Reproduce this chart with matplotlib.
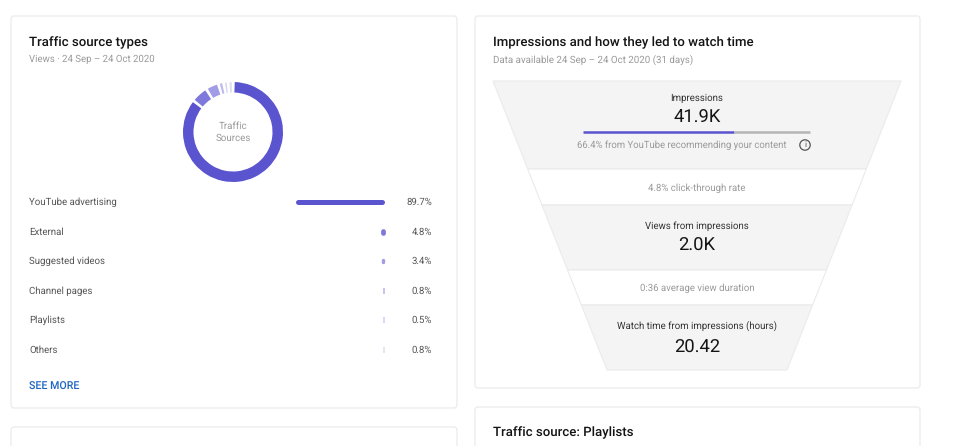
import matplotlib
matplotlib.use('agg')
import matplotlib.pyplot as plt
from matplotlib.patches import FancyBboxPatch, Polygon, Circle

plt.rcParams['font.family'] = ['Roboto', 'DejaVu Sans']
plt.rcParams['text.hinting'] = 'none'
plt.rcParams['text.hinting_factor'] = 8

# Data
sources = ['YouTube advertising', 'External', 'Suggested videos', 'Channel pages', 'Playlists', 'Others']
shares = [89.7, 4.8, 3.4, 0.8, 0.5, 0.8]
share_labels = ['89.7%', '4.8%', '3.4%', '0.8%', '0.5%', '0.8%']
source_colors = ['#5b54cf', '#7f79dc', '#a09ce6', '#bcb9ec', '#d4d2f3', '#e0e0ec']

recommended_pct = 66.4
funnel_heads = ['Impressions', 'Views from impressions', 'Watch time from impressions (hours)']
funnel_values = ['41.9K', '2.0K', '20.42']
funnel_notes = ['4.8% click-through rate', '0:36 average view duration']

DARK = '#141414'
MID = '#555555'
GREY = '#9a9a9a'

fig = plt.figure(figsize=(9.6, 4.46), dpi=100, facecolor='white')
ax = fig.add_axes([0, 0, 1, 1])
ax.set_xlim(0, 960)
ax.set_ylim(446, 0)
ax.axis('off')


def card(x0, y0, x1, y1):
    ax.add_patch(FancyBboxPatch((x0 + 3, y0 + 3), x1 - x0 - 6, y1 - y0 - 6,
                                boxstyle='round,pad=3,rounding_size=3',
                                fc='white', ec='#e9e9e9', lw=0.8, zorder=1))


card(11, 16, 457, 408)
card(475, 16, 920, 388)
card(11, 427, 457, 470)
card(475, 407, 920, 470)

# Left card
ax.text(29, 42.5, 'Traffic source types', fontsize=9.55, weight='medium', color=DARK, va='center')
ax.text(29, 59.5, 'Views · 24 Sep – 24 Oct 2020', fontsize=6.9, color=GREY, va='center')

# Donut, every slice followed by a small white gap
gap = 1.0
pie_vals = []
pie_cols = []
for val, col in zip(shares, source_colors):
    pie_vals += [val, gap]
    pie_cols += [col, 'none']
pie_ax = fig.add_axes([(233 - 52) / 960, 1 - (132 + 52) / 446, 104 / 960, 104 / 446])
pie_ax.pie(pie_vals, colors=pie_cols, startangle=88, counterclock=False,
           radius=50 / 52, wedgeprops=dict(width=10.5 / 52, lw=0))
pie_ax.set_xlim(-1, 1)
pie_ax.set_ylim(-1, 1)
ax.text(233, 126, 'Traffic', fontsize=7.0, color=GREY, ha='center', va='center')
ax.text(233, 138, 'Sources', fontsize=7.0, color=GREY, ha='center', va='center')

# Source rows
row_y = [201, 231, 260, 290, 319, 349]
for name, val, lab, col, y in zip(sources, shares, share_labels, source_colors, row_y):
    ax.text(29, y + 1, name, fontsize=6.9, color=MID, va='center')
    ax.text(432, y + 1, lab, fontsize=6.9, color=MID, va='center', ha='right')
    if val > 10:
        ax.plot([385 - val * 0.99 + 2, 382], [y + 0.5, y + 0.5], color=col, lw=3.6,
                solid_capstyle='round', zorder=3)
    elif val > 2:
        ax.plot([385 - val / 2, 385 - val / 2], [y - 0.5, y + 1.5], color=col, lw=val * 0.72,
                solid_capstyle='round', zorder=3)
    else:
        ax.plot([384, 384], [y - 2.5, y + 3.5], color=col, lw=1.2, solid_capstyle='butt', zorder=3)

ax.text(29, 387, 'SEE MORE', fontsize=7.7, weight='medium', color='#1f66c1', va='center')

# Right card
ax.text(493, 42.5, 'Impressions and how they led to watch time', fontsize=9.55, weight='medium', color=DARK, va='center')
ax.text(493, 59.5, 'Data available 24 Sep – 24 Oct 2020 (31 days)', fontsize=7.0, color=GREY, va='center')


# Funnel
def edge(y):
    return 493 + (y - 81) * 114 / 289, 901 - (y - 81) * 114 / 289


bands = [(81, 169, '#f4f4f4'), (169, 205, 'white'), (205, 270, '#f4f4f4'),
         (270, 305, 'white'), (305, 370, '#f4f4f4')]
for y0, y1, col in bands:
    l0, r0 = edge(y0)
    l1, r1 = edge(y1)
    ax.add_patch(Polygon([(l0, y0), (r0, y0), (r1, y1), (l1, y1)], closed=True,
                         fc=col, ec='#ebebeb', lw=0.8, zorder=2))

centre = 697
for head, value, y, vy in zip(funnel_heads, funnel_values, [98, 226, 326], [117.5, 245.5, 348]):
    ax.text(centre, y, head, fontsize=6.95, color='#333333', ha='center', va='center', zorder=4)
    ax.text(centre, vy, value, fontsize=13.2, color=DARK, ha='center', va='center', zorder=4)

for note, y in zip(funnel_notes, [188, 288]):
    ax.text(centre, y, note, fontsize=6.9, color=GREY, ha='center', va='center', zorder=4)

# Recommended share bar
bar_l, bar_r = 583, 810
bar_mid = bar_l + (bar_r - bar_l) * recommended_pct / 100
ax.plot([bar_l, bar_mid], [132, 132], color='#5b54cf', lw=1.8, solid_capstyle='butt', zorder=4)
ax.plot([bar_mid, bar_r], [132, 132], color='#b5b5b5', lw=1.8, solid_capstyle='butt', zorder=4)
ax.text(577, 145, '66.4% from YouTube recommending your content', fontsize=6.85, color=GREY, va='center', zorder=4)
ax.add_patch(Circle((805, 145), 5.2, fc='none', ec='#555555', lw=0.9, zorder=4))
ax.text(805, 145.3, 'i', fontsize=6, color='#555555', ha='center', va='center', zorder=5)

ax.text(493, 432.5, 'Traffic source: Playlists', fontsize=9.55, weight='medium', color=DARK, va='center')

fig.savefig('out.png', dpi=100, facecolor='white')
